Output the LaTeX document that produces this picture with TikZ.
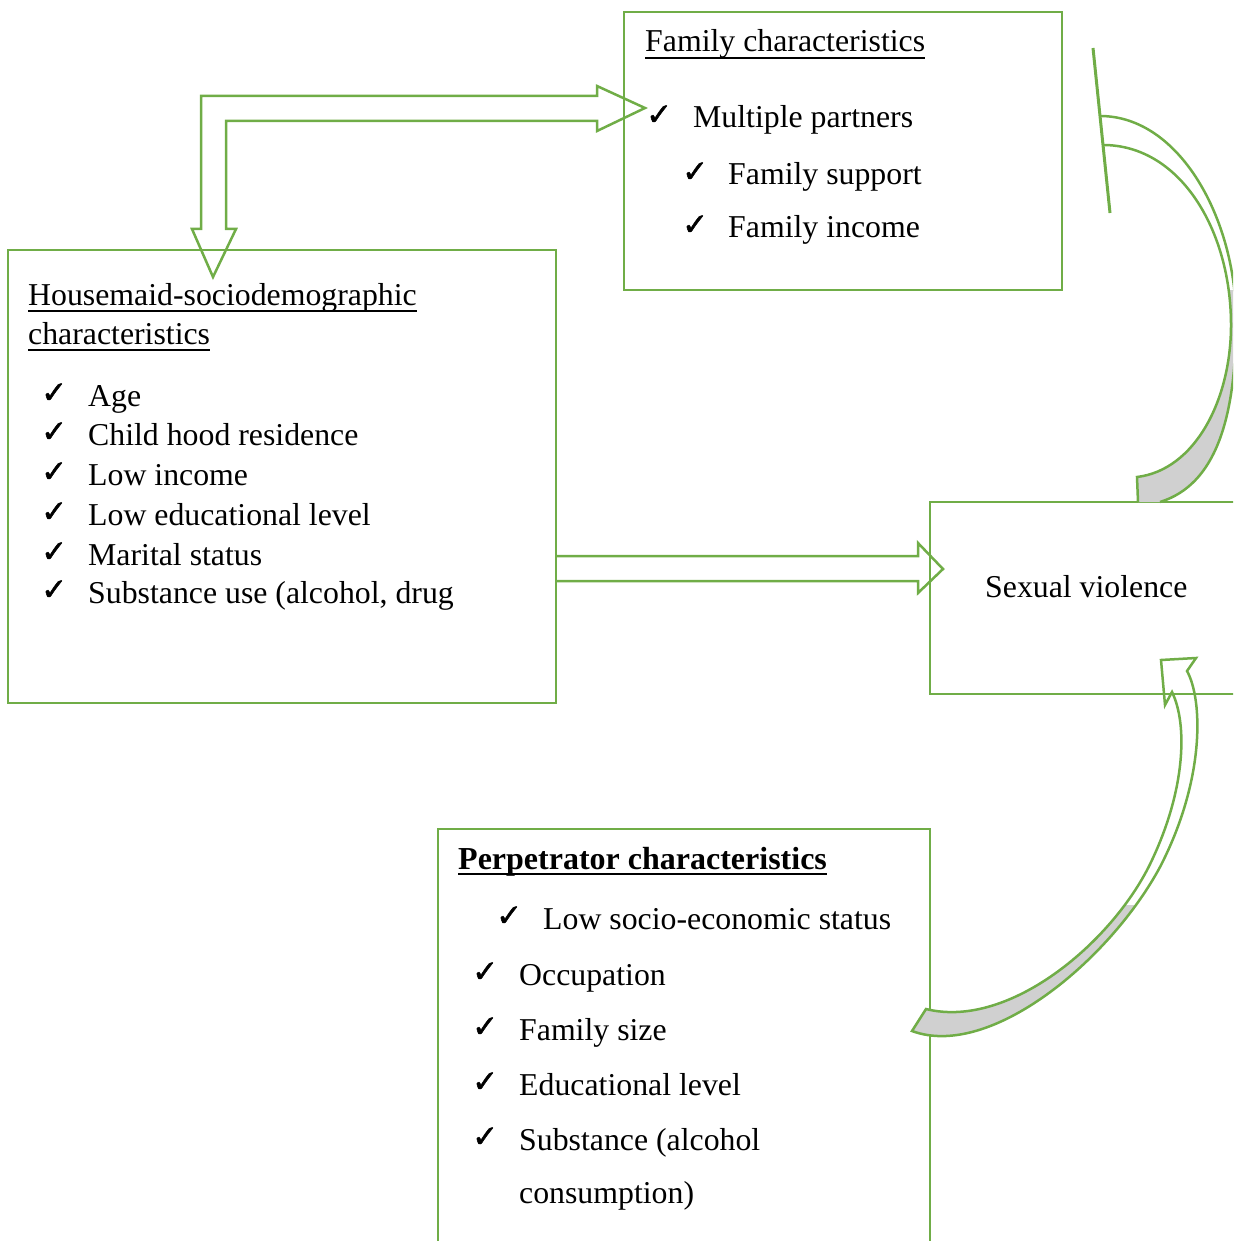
\documentclass[tikz,border=0pt]{standalone}
\usepackage{fontspec}
\setmainfont{Liberation Serif}
\newfontfamily\symfont[FakeBold=1.5]{DejaVu Sans}
\definecolor{ogreen}{RGB}{112,173,71}
\definecolor{bandgray}{RGB}{208,208,208}
\begin{document}
\begin{tikzpicture}[x=1pt,y=-1pt,
  box/.style={draw=ogreen, line width=2.5pt, rectangle, inner sep=0pt},
  txt/.style={anchor=base west, inner sep=0pt, font=\fontsize{31.8}{37}\selectfont},
  btxt/.style={anchor=base west, inner sep=0pt, font=\fontsize{32}{37}\selectfont\bfseries},
  chk/.style={anchor=base west, inner sep=0pt, font=\symfont\fontsize{31}{34}\selectfont},
  arr/.style={draw=ogreen, line width=2.5pt, line join=miter},
  uline/.style={draw=black, line width=1.8pt}]
\useasboundingbox (0,0) rectangle (1233,1241);
\clip (0,0) rectangle (1233,1241);

% boxes
\node[box, minimum width=438pt, minimum height=278pt] (fam) at (843,151) {};
\node[box, minimum width=548pt, minimum height=453pt] (hm) at (282,476.5) {};
\node[box, minimum width=370pt, minimum height=192pt] (sv) at (1115,598) {};
\node[box, minimum width=492pt, minimum height=471pt] (perp) at (684,1064.5) {};

% family characteristics
\node[txt] (famt) at (645,52) {Family characteristics};
\draw[uline] ([yshift=-6pt]famt.base west) -- ([yshift=-6pt]famt.base east);
\node[chk] (fc1) at (646,125) {✓};
\node[txt] (f1) at (693,128) {Multiple partners};
\node[chk] (fc2) at (682,182) {✓};
\node[txt] (f2) at (728,185) {Family support};
\node[chk] (fc3) at (682,235) {✓};
\node[txt] (f3) at (728,238) {Family income};

% housemaid
\node[txt] (hmt1) at (28,305) {Housemaid-sociodemographic};
\draw[uline] ([yshift=-6pt]hmt1.base west) -- ([yshift=-6pt]hmt1.base east);
\node[txt] (hmt2) at (28,344) {characteristics};
\draw[uline] ([yshift=-6pt]hmt2.base west) -- ([yshift=-6pt]hmt2.base east);
\foreach \y/\t [count=\i] in {406/Age, 445/Child hood residence, 485/Low income, 525/Low educational level, 565/Marital status, 603/{Substance use (alcohol, drug}}{
  \node[chk] (hc\i) at (41,\y-3) {✓};
  \node[txt] (h\i) at (88,\y) {\t};
}

% sexual violence
\node[txt] (svt) at (985,597) {Sexual violence};

% perpetrator
\node[btxt] (pt) at (458,869) {Perpetrator characteristics};
\draw[uline] ([yshift=-5pt]pt.base west) -- ([yshift=-5pt]pt.base east);
\node[chk] (pc1) at (496,926) {✓};
\node[txt] (p1) at (543,929) {Low socio-economic status};
\foreach \y/\t [count=\i from 2] in {985/Occupation, 1040/Family size, 1095/Educational level, 1150/{Substance (alcohol}}{
  \node[chk] (pc\i) at (472,\y-3) {✓};
  \node[txt] (p\i) at (519,\y) {\t};
}
\node[txt] (p6) at (519,1203) {consumption)};

% bent arrow (housemaid <-> family)
\draw[arr] (226,229) -- (236,229) -- (213,277) -- (192,229) -- (201,229) -- (201,96)
  -- (597,96) -- (597,86) -- (645,108) -- (597,131) -- (597,121) -- (226,121) -- cycle;

% straight arrow housemaid -> sexual violence
\draw[arr] (555,556) -- (918,556) -- (918,543) -- (943,569) -- (918,593) -- (918,581) -- (555,581);

% top-right curved arrow
\begin{scope}
  \clip (1100,290) rectangle (1240,510);
  \fill[bandgray] (1100,116) .. controls (1180,116) and (1236,220) .. (1236,320)
      .. controls (1236,420) and (1215,485) .. (1160,502)
    -- (1138,502) -- (1137,477)
      .. controls (1195,470) and (1231,400) .. (1231,325)
      .. controls (1231,230) and (1180,145) .. (1103,145) -- cycle;
\end{scope}
\draw[arr] (1100,116) .. controls (1180,116) and (1236,220) .. (1236,320)
      .. controls (1236,420) and (1215,485) .. (1160,502);
\draw[arr] (1103,145) .. controls (1180,145) and (1231,230) .. (1231,325)
      .. controls (1231,400) and (1195,470) .. (1137,477) -- (1138,502);
\draw[arr, line width=3pt] (1093,48) -- (1110,213);

% bottom curved arrow (perpetrator -> sexual violence)
\begin{scope}
  \clip (880,905) rectangle (1240,1060);
  \fill[bandgray] (912,1031) .. controls (990,1060) and (1110,960) .. (1160,867)
      .. controls (1205,780) and (1203,700) .. (1187,671)
    -- (1172,692)
      .. controls (1188,725) and (1185,790) .. (1152,860)
      .. controls (1115,940) and (1010,1030) .. (926,1009) -- cycle;
\end{scope}
\draw[arr] (912,1031) .. controls (990,1060) and (1110,960) .. (1160,867)
      .. controls (1205,780) and (1203,700) .. (1187,671)
  -- (1196,658) -- (1161,660) -- (1165,705) -- (1172,692)
      .. controls (1188,725) and (1185,790) .. (1152,860)
      .. controls (1115,940) and (1010,1030) .. (926,1009) -- cycle;
\end{tikzpicture}
\end{document}
